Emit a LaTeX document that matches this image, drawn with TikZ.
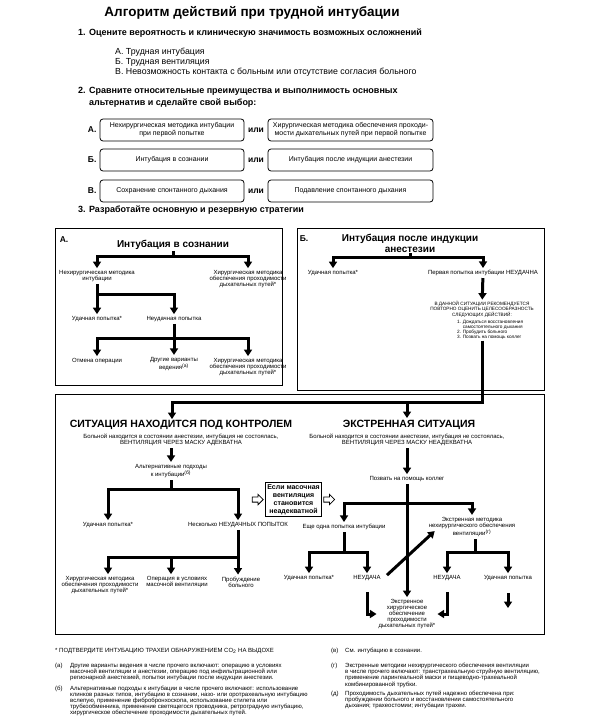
\documentclass[tikz,border=0pt]{standalone}
\usepackage{fontspec}
\setmainfont{Liberation Sans}
\usetikzlibrary{arrows.meta,shapes.arrows,positioning}

\newcommand{\fsz}[2]{\fontsize{#1}{#2}\selectfont}

\tikzset{
  bar/.style={line width=3pt},
  frame/.style={line width=1pt},
  choice/.style={draw,rounded corners=3pt,line width=0.8pt,minimum height=22pt,align=center,inner sep=1pt,font=\fsz{7}{8}},
  lbl/.style={align=center,inner sep=2pt,font=\fsz{6}{6}},
  small/.style={align=center,inner sep=1pt,font=\fsz{4.7}{5}},
  boxhead/.style={align=center,inner sep=1pt,font=\fsz{10}{11}\bfseries},
  sit/.style={inner sep=1pt,font=\fsz{10.5}{12}\bfseries},
  head/.style={anchor=west,inner sep=0pt,align=left,font=\fsz{9}{12}\bfseries},
  item/.style={anchor=west,inner sep=0pt,align=left,font=\fsz{8.8}{10}},
  tagl/.style={inner sep=0pt,font=\fsz{8.5}{10}\bfseries},
  note/.style={anchor=north west,inner sep=0pt,align=left,font=\fsz{6}{5.6}},
  cond/.style={draw,line width=1pt,align=center,inner sep=2pt,font=\fsz{7}{8}\bfseries},
  hollow/.style={single arrow,draw,line width=0.8pt,fill=white,minimum height=11pt,inner sep=2.2pt,single arrow head extend=2.5pt}
}

\begin{document}
\begin{tikzpicture}[x=1pt,y=-1pt,>={Triangle[width=8pt,length=6.5pt]},line join=miter]
\useasboundingbox (0,0) rectangle (598,722);

% draw the title and the steps
\node[font=\fsz{13.5}{15}\bfseries] (title) at (252,13) {Алгоритм действий при трудной интубации};
\node[head] (step1) at (78,33) {1. Оцените вероятность и клиническую значимость возможных осложнений};
\node[item] (risks) at (115,62) {А. Трудная интубация\\Б. Трудная вентиляция\\В. Невозможность контакта с больным или отсутствие согласия больного};
\node[head] (step2) at (78,97) {2. Сравните относительные преимущества и выполнимость основных\\\phantom{2. }альтернатив и сделайте свой выбор:};

% the three pairs of alternatives
\foreach \i/\y/\lab/\ltext/\rtext in {
  1/130/А./{Нехирургическая методика интубации\\при первой попытке}/{Хирургическая методика обеспечения проходи-\\мости дыхательных путей при первой попытке},
  2/160/Б./{Интубация в сознании}/{Интубация после индукции анестезии},
  3/191/В./{Сохранение спонтанного дыхания}/{Подавление спонтанного дыхания}}
{
  \node[choice,minimum width=144pt] (l\i) at (172,\y) {\ltext};
  \node[choice,minimum width=165pt] (r\i) at (350.5,\y) {\rtext};
  \node[tagl,left=3pt of l\i] (t\i) {\lab};
  \node[tagl] (or\i) at (256,\y) {или};
}

\node[head] (step3) at (78,210) {3. Разработайте основную и резервную стратегии};

% draw the frames
\draw[frame] (55,228) rectangle (282,385);
\draw[frame] (297,228) rectangle (544,390);
\draw[frame] (55,394) rectangle (544,634);

% box A: awake intubation
\node[tagl] (tA) at (64,240) {А.};
\node[boxhead] (awake) at (173,245) {Интубация в сознании};
\coordinate (ja) at (173,256);
\node[lbl] (a1) at (97,276) {Нехирургическая методика\\интубации};
\node[lbl] (a2) at (248,279) {Хирургическая методика\\обеспечения проходимости\\дыхательных путей*};
\draw[bar] (awake) -- (ja);
\draw[bar,<->] (a1) |- (ja) -| (a2);

\coordinate (jb) at (174,294);
\node[lbl] (a3) at (97,319) {Удачная попытка*};
\node[lbl] (a4) at (174,319) {Неудачная попытка};
\draw[bar,->] (a1) -- (a3);
\draw[bar,->] (a1 |- jb) -| (a4);

\coordinate (jc) at (174,338);
\node[lbl] (a5) at (97,361) {Отмена операции};
\node[lbl] (a6) at (174,364) {Другие варианты\\ведения\textsuperscript{(а)}};
\node[lbl] (a7) at (248,367) {Хирургическая методика\\обеспечения проходимости\\дыхательных путей*};
\draw[bar] (a4) -- (jc);
\draw[bar,<->] (a5) |- (jc) -| (a7);
\draw[bar,->] (jc) -- (a6);

% box B: intubation after induction
\node[tagl] (tB) at (304,239) {Б.};
\node[boxhead] (induct) at (410,243) {Интубация после индукции\\анестезии};
\coordinate (jd) at (410,257);
\node[lbl] (b1) at (333,273) {Удачная попытка*};
\node[lbl] (b2) at (483,273) {Первая попытка интубации НЕУДАЧНА};
\draw[bar] (induct) -- (jd);
\draw[bar,<->] (b1) |- (jd) -| (b2);

\node[small] (b3) at (482,309) {В ДАННОЙ СИТУАЦИИ РЕКОМЕНДУЕТСЯ\\ПОВТОРНО ОЦЕНИТЬ ЦЕЛЕСООБРАЗНОСТЬ\\СЛЕДУЮЩИХ ДЕЙСТВИЙ:};
\node[small,align=left,anchor=north west] (b4) at (456,319) {1. Дождаться восстановления\\\phantom{1. }самостоятельного дыхания\\2. Пробудить больного\\3. Позвать на помощь коллег};
\draw[bar,->] (b2) -- (b3);

% the two branches below
\node[sit] (c1) at (181,425) {СИТУАЦИЯ НАХОДИТСЯ ПОД КОНТРОЛЕМ};
\node[sit] (e1) at (409,425) {ЭКСТРЕННАЯ СИТУАЦИЯ};
\coordinate (je) at (482,402);
\draw[bar,->] (b3 |- b4.south) -- (je) -| ([xshift=-9pt]c1.north);
\draw[bar,->] (je -| 407,0) -- (407,418);

% controlled situation
\node[lbl] (c2) at (181,440) {Больной находится в состоянии анестезии, интубация не состоялась,\\ВЕНТИЛЯЦИЯ ЧЕРЕЗ МАСКУ АДЕКВАТНА};
\node[lbl] (c3) at (171,471) {Альтернативные подходы\\к интубации\textsuperscript{(б)}};
\draw[bar,->] (c2.south -| c3) -- (c3);

\coordinate (jg) at (171,489);
\node[lbl] (c4) at (108,525) {Удачная попытка*};
\node[lbl] (c5) at (238,525) {Несколько НЕУДАЧНЫХ ПОПЫТОК};
\draw[bar] (c3) -- (jg);
\draw[bar,<->] (c4) |- (jg) -| (c5);

\coordinate (jh) at (238,557);
\node[lbl] (c6) at (100,585) {Хирургическая методика\\обеспечения проходимости\\дыхательных путей*};
\node[lbl] (c7) at (177,582) {Операция в условиях\\масочной вентиляции};
\node[lbl] (c8) at (241,582) {Пробуждение\\больного};
\draw[bar,->] (c5) -- (c8.north -| c5);
\draw[bar,->] (jh) -| (c6.north -| c4);
\draw[bar,->] (jh -| c3) -- (c7.north -| c3);

% mask ventilation becomes inadequate
\node[cond] (worse) at (293.5,499.5) {Если масочная\\вентиляция\\становится\\неадекватной};
\node[hollow,left=1pt of worse] (inarr) {};
\node[hollow,right=1pt of worse] (outarr) {};

% emergency situation
\node[lbl] (e2) at (407,440) {Больной находится в состоянии анестезии, интубация не состоялась,\\ВЕНТИЛЯЦИЯ ЧЕРЕЗ МАСКУ НЕАДЕКВАТНА};
\node[lbl] (e3) at (407,479) {Позвать на помощь коллег};
\draw[bar,->] (e2) -- (e3);

\coordinate (ji) at (407,503);
\node[lbl] (e4) at (344,527) {Еще одна попытка интубации};
\node[lbl] (e5) at (472,527) {Экстренная методика\\нехирургического обеспечения\\вентиляции\textsuperscript{(г)}};
\node[lbl] (e8) at (407,614) {Экстренное\\хирургическое\\обеспечение\\проходимости\\дыхательных путей*};
\draw[bar,<->] (e4) |- (ji) -| (e5);
\draw[bar,->] (e3) -- (e8);

\coordinate (jj) at (344,552);
\node[lbl] (e6) at (309,578) {Удачная попытка*};
\node[lbl] (e7) at (367,578) {НЕУДАЧА};
\draw[bar] (e4) -- (jj);
\draw[bar,<->] (e6) |- (jj) -| (e7);

\coordinate (jk) at (475,552);
\node[lbl] (e9) at (447,578) {НЕУДАЧА};
\node[lbl] (e10) at (508,578) {Удачная попытка};
\draw[bar] (e5.south -| jk) -- (jk);
\draw[bar,<->] (e9) |- (jk) -| (e10);

\coordinate (ok) at (508,608);
\draw[bar,->] ([yshift=-10pt]e10.south) -- (ok);
\draw[bar,->] ([yshift=-9pt]e7.south) |- (e8);
\draw[bar,->] ([yshift=-9pt]e9.south) |- (e8);
\draw[bar,->] ([xshift=4pt,yshift=-2pt]e7.north east) -- ([xshift=8pt,yshift=8pt]e5.south west);

% draw the notes
\node[note] (n0) at (55,648) {* ПОДТВЕРДИТЕ ИНТУБАЦИЮ ТРАХЕИ ОБНАРУЖЕНИЕМ CO\textsubscript{2} НА ВЫДОХЕ};
\node[note] (na) at (55,663) {\begin{tabular}{@{}p{15pt}@{}l@{}}
(а)&Другие варианты ведения в числе прочего включают: операцию в условиях\\
&масочной вентиляции и анестезии, операцию под инфильтрационной или\\
&регионарной анестезией, попытки интубации после индукции анестезии.\end{tabular}};
\node[note] (nb) at (55,686) {\begin{tabular}{@{}p{15pt}@{}l@{}}
(б)&Альтернативные подходы к интубации в числе прочего включают: использование\\
&клинков разных типов, интубацию в сознании, назо- или оротрахеальную интубацию\\
&вслепую, применение фибробронхоскопа, использование стилета или\\
&трубкообменника, применение светящегося проводника, ретроградную интубацию,\\
&хирургическое обеспечение проходимости дыхательных путей.\end{tabular}};
\node[note] (nc) at (331,648) {\begin{tabular}{@{}p{14pt}@{}l@{}}
(в)&См. интубацию в сознании.\end{tabular}};
\node[note] (nd) at (331,663) {\begin{tabular}{@{}p{14pt}@{}l@{}}
(г)&Экстренные методики нехирургического обеспечения вентиляции\\
&в числе прочего включают: транстрахеальную струйную вентиляцию,\\
&применение ларингеальной маски и пищеводно-трахеальной\\
&комбинированной трубки.\end{tabular}};
\node[note] (ne) at (331,691) {\begin{tabular}{@{}p{14pt}@{}l@{}}
(д)&Проходимость дыхательных путей надежно обеспечена при:\\
&пробуждении больного и восстановлении самостоятельного\\
&дыхания; трахеостомии; интубации трахеи.\end{tabular}};
\end{tikzpicture}
\end{document}
